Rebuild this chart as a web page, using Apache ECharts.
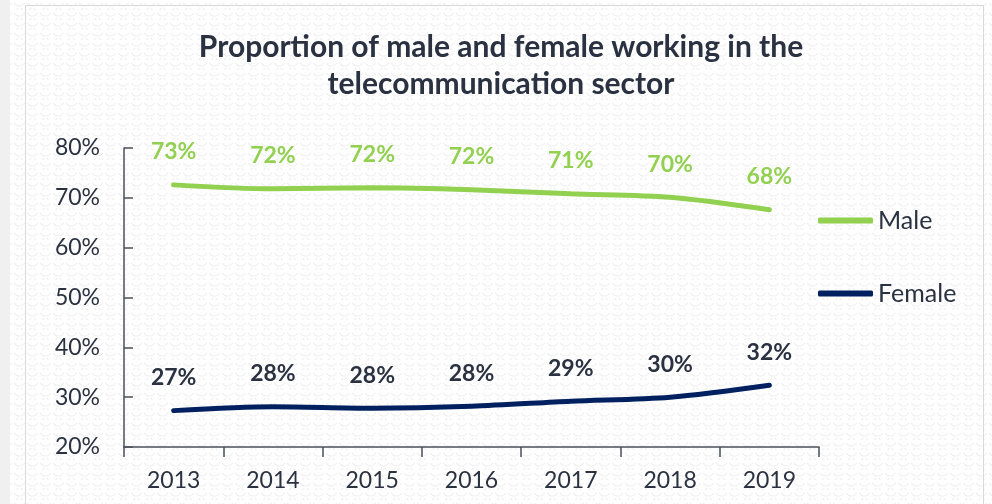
<!DOCTYPE html>
<html>
<head>
<meta charset="utf-8">
<script src="https://cdn.jsdelivr.net/npm/echarts@6/dist/echarts.min.js"></script>
<style>
  html, body { margin: 0; padding: 0; background: #fff; }
  #chart { width: 992px; height: 504px; }
</style>
</head>
<body>
<div id="chart"></div>
<script>
const years = ["2013", "2014", "2015", "2016", "2017", "2018", "2019"];
const male = [72.6, 71.8, 72.0, 71.6, 70.8, 70.1, 67.6];
const female = [27.3, 28.1, 27.8, 28.2, 29.2, 30.0, 32.4];
const yTicks = { min: 20, max: 80, step: 10 };

const GREEN = "#92d050";
const NAVY = "#002060";
const TEXT = "#2a3140";
const FONT = "Lato, 'Open Sans', sans-serif";

// faint fish-scale texture like the reference background
function makeTile() {
  const c = document.createElement("canvas");
  c.width = 13; c.height = 10;
  const g = c.getContext("2d");
  g.fillStyle = "#ffffff";
  g.fillRect(0, 0, 13, 10);
  g.strokeStyle = "#f0f0f0";
  g.lineWidth = 1.2;
  g.beginPath(); g.arc(6.5, 0, 6, 0.15 * Math.PI, 0.85 * Math.PI); g.stroke();
  g.beginPath(); g.arc(0, 5, 6, 0.15 * Math.PI, 0.85 * Math.PI); g.stroke();
  g.beginPath(); g.arc(13, 5, 6, 0.15 * Math.PI, 0.85 * Math.PI); g.stroke();
  return c;
}

const chart = echarts.init(document.getElementById("chart"));

const pct = (p) => Math.round(p.value) + "%";

function lineSeries(name, data, color, labelColor) {
  return {
    name,
    type: "line",
    data,
    smooth: 0.3,
    symbol: "circle",
    symbolSize: 1,
    showSymbol: true,
    color,
    itemStyle: { color },
    lineStyle: { width: 5, color, cap: "round" },
    emphasis: { disabled: true },
    label: {
      show: true,
      position: "top",
      distance: 21,
      formatter: pct,
      color: labelColor,
      fontSize: 23,
      fontWeight: "bold",
      fontFamily: FONT,
    },
  };
}

chart.setOption({
  backgroundColor: { image: makeTile(), repeat: "repeat" },
  textStyle: { fontFamily: FONT },
  animation: false,
  graphic: [
    { type: "rect", left: 0, top: 0, shape: { width: 10, height: 504 }, style: { fill: "#f0f0f0" }, z: -1 },
    { type: "rect", left: 23, top: 3, shape: { width: 958, height: 520 }, style: { fill: "none", stroke: "#d9d9d9", lineWidth: 1 }, z: -1 },
  ],
  title: {
    text: "Proportion of male and female working in the\ntelecommunication sector",
    left: 496,
    textAlign: "center",
    top: 24,
    textStyle: { fontFamily: FONT, fontSize: 30, fontWeight: "bold", color: TEXT, lineHeight: 37 },
  },
  legend: {
    orient: "vertical",
    left: 813,
    top: 203,
    itemGap: 48,
    icon: "roundRect",
    itemWidth: 55,
    itemHeight: 6,
    textStyle: { fontFamily: FONT, fontSize: 25, color: TEXT },
    data: ["Male", "Female"],
  },
  grid: { left: 124, right: 173, top: 148, bottom: 57, containLabel: false },
  xAxis: {
    type: "category",
    data: years,
    boundaryGap: true,
    axisLine: { lineStyle: { color: "#4a4f5a", width: 1.5 } },
    axisTick: { show: true, inside: false, length: 10, lineStyle: { color: "#4a4f5a", width: 1.5 } },
    axisLabel: { color: TEXT, fontSize: 23, fontFamily: FONT, margin: 22 },
    splitLine: { show: false },
  },
  yAxis: {
    type: "value",
    min: yTicks.min,
    max: yTicks.max,
    interval: yTicks.step,
    axisLine: { show: true, lineStyle: { color: "#4a4f5a", width: 1.5 } },
    axisTick: { show: true, inside: true, length: 9, lineStyle: { color: "#4a4f5a", width: 1.5 } },
    axisLabel: { color: TEXT, fontSize: 23, fontFamily: FONT, margin: 24, formatter: "{value}%" },
    splitLine: { show: false },
  },
  series: [
    lineSeries("Male", male, GREEN, GREEN),
    lineSeries("Female", female, NAVY, TEXT),
  ],
});

window.addEventListener("resize", () => chart.resize());
</script>
</body>
</html>
